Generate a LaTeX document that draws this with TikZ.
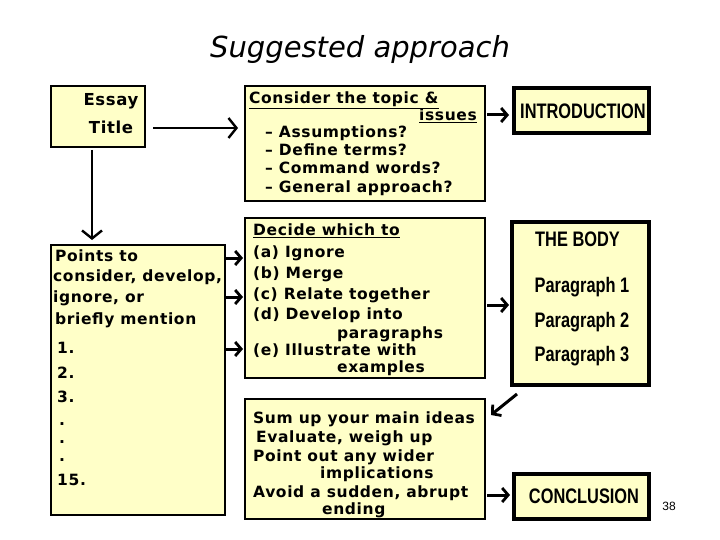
\documentclass[tikz,border=0pt]{standalone}
\usepackage{fontspec}
\setmainfont{DejaVu Sans}[LetterSpace=4]
\newfontfamily\cond[FakeStretch=0.78]{Liberation Sans}
\newfontfamily\ttl{DejaVu Sans}
\newfontfamily\lib{Liberation Sans}
\usetikzlibrary{arrows.meta}
\definecolor{paper}{HTML}{FFFFC8}
\tikzset{
 box/.style={draw=black,fill=paper,line width=1.2pt},
 tbox/.style={draw=black,fill=paper,line width=4pt},
 tx/.style={anchor=base west,inner sep=0pt,font=\fontsize{15.5}{16}\selectfont\bfseries},
 cx/.style={anchor=base,inner sep=0pt,font=\fontsize{21}{22}\selectfont\cond\bfseries},
 arr/.style={line width=2.4pt,-{Straight Barb[length=8pt,width=20pt,line width=2.4pt]}},
 sarr/.style={line width=3pt,-{Straight Barb[length=6pt,width=14pt,line width=2.8pt]}},
}
\begin{document}
\begin{tikzpicture}[x=1pt,y=-1pt]
\useasboundingbox (0,0) rectangle (720,540);
\node[anchor=base,inner sep=0pt,font=\fontsize{29}{30}\selectfont\ttl\itshape] (title) at (360,58) {Suggested approach};
% boxes
\draw[box] (51,86) rectangle (145,147);
\draw[box] (245,86) rectangle (485,201);
\draw[tbox] (514,88) rectangle (649,133);
\draw[box] (51,245) rectangle (225,515);
\draw[box] (245,218) rectangle (485,378);
\draw[tbox] (512,222) rectangle (649,385);
\draw[box] (245,399) rectangle (485,519);
\draw[tbox] (514,474) rectangle (649,519);
% essay
\node[tx,anchor=base,font=\fontsize{16.5}{16}\selectfont\bfseries] (e1) at (111,106) {Essay};
\node[tx,anchor=base,font=\fontsize{16.5}{16}\selectfont\bfseries] (e2) at (111,134) {Title};
% consider
\node[tx] (c1) at (249,104) {\underline{Consider the topic \&\hspace{1pt}}};
\node[tx,anchor=base east] (c2) at (477,121) {\underline{issues}};
\node[tx] (c3) at (265,138) {– Assumptions?};
\node[tx] (c4) at (265,156) {– Define terms?};
\node[tx] (c5) at (265,174) {– Command words?};
\node[tx] (c6) at (265,193) {– General approach?};
% points
\node[tx] (p1) at (55,261) {Points to};
\node[tx] (p2) at (53,281) {consider, develop,};
\node[tx] (p3) at (53,302) {ignore, or};
\node[tx] (p4) at (55,324) {briefly mention};
\node[tx] (p5) at (57,353) {1.};
\node[tx] (p6) at (57,378) {2.};
\node[tx] (p7) at (57,402) {3.};
\node[tx] (p8) at (59,425) {.};
\node[tx] (p9) at (59,443) {.};
\node[tx] (p10) at (59,461) {.};
\node[tx] (p11) at (57,485) {15.};
% decide
\node[tx] (d1) at (253,236) {\underline{Decide which to}};
\node[tx] (d2) at (253,258) {(a) Ignore};
\node[tx] (d3) at (253,278) {(b) Merge};
\node[tx] (d4) at (253,299) {(c) Relate together};
\node[tx] (d5) at (253,319) {(d) Develop into};
\node[tx] (d6) at (337,338) {paragraphs};
\node[tx] (d7) at (253,355) {(e) Illustrate with};
\node[tx] (d8) at (337,372) {examples};
% sum
\node[tx] (s1) at (253,423) {Sum up your main ideas};
\node[tx] (s2) at (256,442) {Evaluate, weigh up};
\node[tx] (s3) at (253,461) {Point out any wider};
\node[tx] (s4) at (320,478) {implications};
\node[tx] (s5) at (253,497) {Avoid a sudden, abrupt};
\node[tx] (s6) at (322,514) {ending};
% right boxes
\node[cx] (i1) at (583,119) {INTRODUCTION};
\node[cx,anchor=base west] (b1) at (535,246) {THE BODY};
\node[cx] (b2) at (582,292) {Paragraph 1};
\node[cx] (b3) at (582,327) {Paragraph 2};
\node[cx] (b4) at (582,361) {Paragraph 3};
\node[cx] (cc) at (584,503) {CONCLUSION};
\node[anchor=base,inner sep=0pt,font=\fontsize{12}{12}\selectfont\lib] (n38) at (669,510) {38};
% arrows
\coordinate (a1s) at (153,128); \coordinate (a1e) at (238,128);
\draw[arr] (a1s) -- (a1e);
\coordinate (a2s) at (92,150); \coordinate (a2e) at (92,240);
\draw[arr] (a2s) -- (a2e);
\coordinate (a3s) at (487,115); \coordinate (a3e) at (509,115);
\draw[sarr] (a3s) -- (a3e);
\foreach \y/\n in {258/q1,297/q2,349/q3}{
 \coordinate (\n s) at (226,\y); \coordinate (\n e) at (243,\y);
 \draw[sarr] (\n s) -- (\n e);}
\coordinate (a4s) at (487,305); \coordinate (a4e) at (509,305);
\draw[sarr] (a4s) -- (a4e);
\coordinate (a5s) at (517,394); \coordinate (a5e) at (491,415);
\draw[sarr] (a5s) -- (a5e);
\coordinate (a6s) at (487,495); \coordinate (a6e) at (510,495);
\draw[sarr] (a6s) -- (a6e);
\end{tikzpicture}
\end{document}
